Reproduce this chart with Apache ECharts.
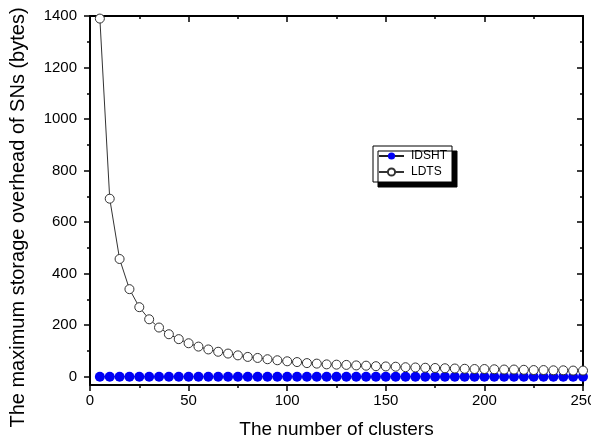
<!DOCTYPE html>
<html>
<head>
<meta charset="utf-8">
<script src="https://cdn.jsdelivr.net/npm/echarts@6/dist/echarts.min.js"></script>
<style>
html,body{margin:0;padding:0;background:#fff;}
#main{width:591px;height:446px;}
</style>
</head>
<body>
<div id="main"></div>
<script>
// number of clusters
var clusters = [5,10,15,20,25,30,35,40,45,50,55,60,65,70,75,80,85,90,95,100,
    105,110,115,120,125,130,135,140,145,150,155,160,165,170,175,180,185,190,195,200,
    205,210,215,220,225,230,235,240,245,250];
// max storage overhead (bytes)
var idsht = [0,0,0,0,0,0,0,0,0,0,0,0,0,0,0,0,0,0,0,0,
    0,0,0,0,0,0,0,0,0,0,0,0,0,0,0,0,0,0,0,0,
    0,0,0,0,0,0,0,0,0,0];
var ldts = [1390,691,457,340,270,223,191,165,146,130,117,106,97,90,83,77,73,68,64,60,
    57,53,51,48,47,46,44,43,41,40,39,37,36,35,34,33,32,31,30,30,
    29,28,28,27,26,26,25,25,24,24];
var yLabels = [0,200,400,600,800,1000,1200,1400];
var yMinor = [100,300,500,700,900,1100,1300];

var chart = echarts.init(document.getElementById('main'));

function pairs(xs, ys){
    var out = [];
    for(var i=0;i<xs.length;i++){
        out.push([xs[i], ys[i]]);
    }
    return out;
}

var font = 'Liberation Sans';
var plain = function(v){ return String(v); };

var option = {
    backgroundColor: '#fff',
    animation: false,
    grid: {left: 90, right: 8, top: 16, bottom: 61, outerBoundsMode: 'none'},
    legend: {
        left: 373,
        top: 146,
        orient: 'vertical',
        itemWidth: 25,
        itemHeight: 9,
        itemGap: 2,
        padding: [3, 5, 3, 5],
        backgroundColor: '#fff',
        borderColor: '#000',
        borderWidth: 1,
        borderRadius: 0,
        shadowColor: '#000',
        shadowBlur: 0,
        shadowOffsetX: 5,
        shadowOffsetY: 5,
        textStyle: {fontFamily: font, fontSize: 12, lineHeight: 14, color: '#000', padding: [0,0,0,2]},
        data: ['IDSHT', 'LDTS']
    },
    xAxis: [
        {
            type: 'value', position: 'bottom', min: 0, max: 250, interval: 50,
            name: 'The number of clusters', nameLocation: 'middle', nameGap: 35,
            nameTextStyle: {fontFamily: font, fontSize: 19, color: '#000'},
            axisLine: {onZero: false, lineStyle: {color: '#000', width: 2}},
            axisTick: {length: 6, lineStyle: {color: '#000', width: 1.5}},
            minorTick: {show: true, splitNumber: 2, length: 3, lineStyle: {color: '#000', width: 1.5}},
            axisLabel: {fontFamily: font, fontSize: 15, color: '#000', margin: 8, formatter: plain},
            splitLine: {show: false}
        },
        {
            type: 'value', position: 'top', min: 0, max: 250, interval: 50,
            axisLine: {show: true, onZero: false, lineStyle: {color: '#000', width: 2}},
            axisTick: {show: true, inside: true, length: 6, lineStyle: {color: '#000', width: 1.5}},
            minorTick: {show: true, splitNumber: 2, length: 3, lineStyle: {color: '#000', width: 1.5}},
            axisLabel: {show: false},
            splitLine: {show: false}
        }
    ],
    yAxis: [
        {
            type: 'value', position: 'left', min: -32, max: 1400,
            name: 'The maximum storage overhead of SNs (bytes)', nameLocation: 'middle', nameGap: 62,
            nameTextStyle: {fontFamily: font, fontSize: 20, color: '#000', padding: [0, 34, 0, 0]},
            axisLine: {onZero: false, lineStyle: {color: '#000', width: 2}},
            axisTick: {length: 6, customValues: yLabels, lineStyle: {color: '#000', width: 1.5}},
            axisLabel: {fontFamily: font, fontSize: 15, color: '#000', margin: 13, customValues: yLabels, formatter: plain},
            splitLine: {show: false}
        },
        {
            type: 'value', position: 'left', min: -32, max: 1400,
            axisLine: {show: false, onZero: false},
            axisTick: {show: true, length: 3, customValues: yMinor, lineStyle: {color: '#000', width: 1.5}},
            axisLabel: {show: false, customValues: yMinor},
            splitLine: {show: false}
        },
        {
            type: 'value', position: 'right', min: -32, max: 1400,
            axisLine: {show: true, onZero: false, lineStyle: {color: '#000', width: 2}},
            axisTick: {show: true, inside: true, length: 6, customValues: yLabels, lineStyle: {color: '#000', width: 1.5}},
            axisLabel: {show: false, customValues: yLabels},
            splitLine: {show: false}
        },
        {
            type: 'value', position: 'right', min: -32, max: 1400,
            axisLine: {show: false, onZero: false},
            axisTick: {show: true, inside: true, length: 3, customValues: yMinor, lineStyle: {color: '#000', width: 1.5}},
            axisLabel: {show: false, customValues: yMinor},
            splitLine: {show: false}
        }
    ],
    series: [
        {
            name: 'IDSHT', type: 'line', xAxisIndex: 0, yAxisIndex: 0,
            symbol: 'circle', symbolSize: 10, clip: false,
            itemStyle: {color: '#0000f5'},
            lineStyle: {color: '#222', width: 1},
            data: pairs(clusters, idsht)
        },
        {
            name: 'LDTS', type: 'line', xAxisIndex: 0, yAxisIndex: 0,
            symbol: 'circle', symbolSize: 9, clip: false,
            itemStyle: {color: '#fff', borderColor: '#333', borderWidth: 1},
            lineStyle: {color: '#333', width: 1},
            data: pairs(clusters, ldts)
        }
    ]
};
chart.setOption(option);
</script>
</body>
</html>
